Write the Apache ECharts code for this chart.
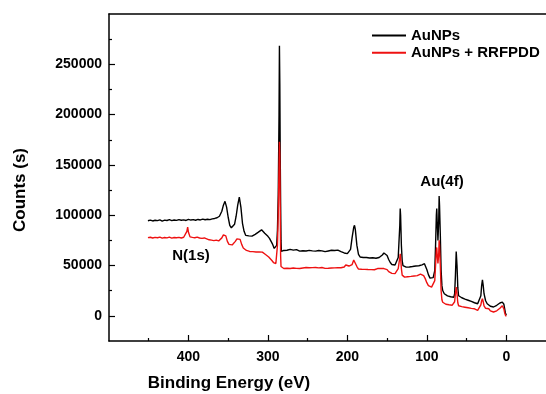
<!DOCTYPE html>
<html>
<head>
<meta charset="utf-8">
<script src="https://cdn.jsdelivr.net/npm/echarts@6/dist/echarts.min.js"></script>
<style>
  html, body { margin: 0; padding: 0; background: #fff; }
  #chart { width: 546px; height: 394px; }
</style>
</head>
<body>
<div id="chart"></div>
<script>
// XPS survey spectra: [binding energy (eV), counts]
const seriesNames = ['AuNPs', 'AuNPs + RRFPDD'];

const auNPs = [
  [451,94500],[448,95200],[445,94300],[442,95000],[439,94600],[436,95400],[433,94200],[430,95100],
  [427,94800],[424,95600],[421,94700],[418,95300],[415,94900],[412,95700],[409,95000],[406,95400],
  [403,94800],[400,95900],[397,95200],[394,95600],[391,95000],[388,95800],[385,95300],[382,96100],
  [379,95500],[376,96000],[373,95600],[370,96400],[367,96800],[364,97500],[361,99000],[358,104000],
  [356,110000],[354,113800],[352,108000],[350,98000],[348,90000],[346,87500],[344,88000],[342,91000],
  [340,99000],[338,110000],[336,118000],[334,108000],[332,92000],[330,84000],[328,80000],[326,78500],
  [324,79500],[322,80000],[320,79200],[318,80600],[316,81000],[314,82500],[312,83200],[310,84000],
  [308,85500],[306,84000],[304,82000],[302,81000],[300,79000],[298,77000],[296,74000],[294,71000],
  [292,67000],[290,65500],[289,70000],[288,85000],[287,120000],[286,200000],[285.5,268500],[285,230000],
  [284.5,160000],[284,112000],[283.5,75000],[283,64000],[282,65500],[280,65000],[278,64000],[276,65200],
  [274,64400],[272,66000],[270,64800],[268,65300],[266,64500],[264,65800],[262,65000],[260,64300],
  [258,65500],[256,64700],[254,65200],[252,64400],[250,65900],[248,65100],[246,65600],[244,64600],
  [242,65400],[240,64300],[238,66200],[236,65000],[234,65700],[232,64600],[230,65400],[228,63800],
  [226,65200],[224,64500],[222,66000],[220,65200],[218,64000],[216,65000],[214,64200],[212,65300],
  [210,64500],[208,63800],[206,64300],[204,62500],[202,63000],[200,61800],[198,62500],[196,66000],
  [194,78000],[192,88000],[191,90000],[190,86000],[188,70000],[186,61000],[184,58500],[182,59500],
  [180,58000],[178,59200],[176,58000],[174,58400],[172,57500],[170,57000],[168,57800],[166,56800],
  [164,57300],[162,56800],[160,58000],[158,59000],[156,60500],[154,62500],[152,63300],[150,60000],
  [148,56000],[146,53000],[144,51000],[142,50100],[140,50500],[138,52000],[136,58000],[134,90000],
  [133.5,106600],[133,100000],[132,70000],[131,55000],[130,50000],[128,48500],[126,48400],[124,49200],
  [122,48600],[120,49500],[118,49000],[116,50200],[114,49600],[112,50100],[110,49800],[108,50100],
  [106,50600],[104,51500],[103,51800],[102,50500],[100,46000],[98,41000],[96,37500],[94,36800],
  [92,38000],[90,45000],[89,70000],[88,100000],[87.5,106600],[87,95000],[86,75000],[85,95000],
  [84.5,119200],[84,110000],[83,80000],[82,45000],[81,30000],[80,25200],[78,22000],[76,20200],
  [74,19800],[72,19300],[70,19000],[68,18800],[66,18500],[65,22000],[64,40000],[63,64000],
  [62,50000],[61,28000],[60,20000],[58,18500],[56,18000],[54,17200],[52,16600],[50,16000],
  [48,15500],[46,14800],[44,14300],[42,13600],[40,13000],[38,12600],[36,12000],[34,13000],
  [32,20000],[31,30000],[30,35800],[29,30000],[28,22000],[26,15000],[24,12000],[22,10300],
  [20,9500],[18,8600],[16,8800],[14,9500],[12,10500],[10,11800],[8,12800],[6,13800],
  [5,13600],[4,13000],[3,11500],[2,7000],[1,2500],[0,500]
];

const auNPsRRFPDD = [
  [451,77700],[448,78100],[445,77400],[442,78000],[439,77600],[436,78300],[433,77200],[430,77900],
  [427,77500],[424,78200],[421,77300],[418,77900],[415,77600],[412,78000],[409,77400],[406,78100],
  [404,78800],[402,84000],[401,88200],[400,83000],[398,78500],[395,78000],[392,77600],[389,78200],
  [386,77400],[383,77000],[380,77400],[377,76500],[374,75600],[371,75200],[368,74800],[365,75200],
  [362,74500],[360,75000],[358,77500],[356,80500],[355,82300],[353,79500],[351,74000],[349,71000],
  [347,70000],[345,70500],[343,72000],[341,74000],[339,76500],[337,78300],[335,76000],[333,71000],
  [331,67500],[329,66000],[327,65000],[325,64500],[323,64000],[321,64300],[319,63800],[317,64200],
  [315,63500],[313,63000],[311,63500],[309,63800],[307,63300],[305,62500],[303,61000],[301,60000],
  [299,58500],[297,57000],[295,55000],[293,53000],[291,51800],[290,52000],[289,53000],[288,70000],
  [287,100000],[286,150000],[285.5,172900],[285,160000],[284.5,110000],[284,60000],[283.5,49000],[283,47100],
  [282,47800],[280,47100],[278,48000],[276,47300],[274,47800],[272,47000],[270,48100],[268,47500],
  [266,47900],[264,47200],[262,47800],[260,47000],[258,48200],[256,47600],[254,47300],[252,48000],
  [250,47400],[248,47800],[246,47100],[244,47900],[242,47500],[240,48100],[238,47400],[236,47700],
  [234,47200],[232,48000],[230,47600],[228,47200],[226,47800],[224,47300],[222,47900],[220,47600],
  [218,47100],[216,47700],[214,47400],[212,47900],[210,47300],[208,47800],[206,47500],[204,48500],
  [202,50500],[200,51800],[198,49500],[196,48000],[194,51000],[192,55500],[191,56800],[190,55000],
  [188,49000],[186,46500],[184,46000],[182,46300],[180,45800],[178,46200],[176,45700],[174,46000],
  [172,45600],[170,45900],[168,45500],[166,45800],[164,46200],[162,47000],[160,47800],[158,47200],
  [156,47500],[154,47000],[152,47800],[150,46000],[148,44000],[146,43000],[144,42200],[142,41800],
  [140,42000],[138,43000],[136,47000],[134,58000],[133.5,61700],[133,58000],[132,47000],[131,40500],
  [130,39000],[128,38500],[126,38400],[124,38900],[122,38600],[120,39200],[118,39000],[116,39600],
  [114,39800],[112,40000],[110,40800],[108,41500],[106,40800],[104,40000],[102,37000],[100,33000],
  [98,30000],[96,28500],[94,28500],[92,29500],[90,35000],[89,50000],[88,65000],[87.5,68000],
  [87,62000],[86,52000],[85,62000],[84.5,75000],[84,70000],[83,50000],[82,25000],[81,16000],
  [80,13500],[78,12000],[76,11500],[74,11200],[72,11000],[70,10800],[68,10600],[66,10500],
  [65,14000],[64,22000],[63,28500],[62,22000],[61,13000],[60,10000],[58,9500],[56,9200],
  [54,8800],[52,8600],[50,8300],[48,8000],[46,7700],[44,7400],[42,7200],[40,7000],
  [38,6500],[36,5500],[34,6500],[32,11000],[31,15000],[30,17000],[29,14000],[28,10000],
  [26,7500],[24,7000],[22,7000],[20,5000],[18,3600],[16,3800],[14,4300],[12,5000],
  [10,6000],[8,7500],[6,9000],[5,10000],[4,9500],[3,7000],[2,3000],[1,500],[0,-500]
];

// Tick positions
const xMajorTicks = [0, 100, 200, 300, 400];
const xMinorTicks = [50, 150, 250, 350, 450];
const yMajorTicks = [0, 50000, 100000, 150000, 200000, 250000];
const yMinorTicks = [25000, 75000, 125000, 175000, 225000, 275000];

// Peak annotations
const peakLabels = [
  { text: 'N(1s)', x: 191, y: 256 },
  { text: 'Au(4f)', x: 442, y: 182 }
];

const FONT = 'Liberation Sans, Arial, sans-serif';
const chart = echarts.init(document.getElementById('chart'), null, { renderer: 'canvas' });

const xBase = { type: 'value', inverse: true, min: -50, max: 500, splitLine: { show: false } };
const yBase = { type: 'value', min: -25000, max: 300000, splitLine: { show: false } };
const axisLine = { show: true, onZero: false, lineStyle: { color: '#000', width: 1.5 } };
const noLine = { show: false, onZero: false };
const plain = v => String(v);

chart.setOption({
  animation: false,
  backgroundColor: '#fff',
  grid: { left: 109, top: 14, width: 440, height: 327 },
  legend: {
    orient: 'vertical',
    left: 372,
    top: 28,
    padding: 0,
    itemWidth: 34,
    itemHeight: 2,
    itemGap: 2.3,
    icon: 'rect',
    data: seriesNames,
    textStyle: { fontFamily: FONT, fontWeight: 'bold', fontSize: 15, color: '#000', lineHeight: 15 }
  },
  xAxis: [
    Object.assign({}, xBase, {
      position: 'bottom',
      axisLine: axisLine,
      axisTick: { show: true, inside: true, length: 6, customValues: xMajorTicks, lineStyle: { color: '#000', width: 1.2 } },
      axisLabel: { customValues: xMajorTicks, formatter: plain, margin: 9, fontFamily: FONT, fontWeight: 'bold', fontSize: 14, color: '#000' }
    }),
    Object.assign({}, xBase, {
      position: 'bottom',
      axisLine: noLine,
      axisTick: { show: true, inside: true, length: 3, customValues: xMinorTicks, lineStyle: { color: '#000', width: 1.2 } },
      axisLabel: { show: false }
    }),
    Object.assign({}, xBase, {
      position: 'top',
      axisLine: axisLine,
      axisTick: { show: false },
      axisLabel: { show: false }
    })
  ],
  yAxis: [
    Object.assign({}, yBase, {
      position: 'left',
      axisLine: axisLine,
      axisTick: { show: true, inside: true, length: 6, customValues: yMajorTicks, lineStyle: { color: '#000', width: 1.2 } },
      axisLabel: { customValues: yMajorTicks, formatter: plain, margin: 7, fontFamily: FONT, fontWeight: 'bold', fontSize: 14, color: '#000' }
    }),
    Object.assign({}, yBase, {
      position: 'left',
      axisLine: noLine,
      axisTick: { show: true, inside: true, length: 3, customValues: yMinorTicks, lineStyle: { color: '#000', width: 1.2 } },
      axisLabel: { show: false }
    })
  ],
  series: [
    {
      name: seriesNames[0], type: 'line', data: auNPs, xAxisIndex: 0, yAxisIndex: 0,
      showSymbol: false, color: '#000', lineStyle: { width: 1.4, color: '#000' }
    },
    {
      name: seriesNames[1], type: 'line', data: auNPsRRFPDD, xAxisIndex: 0, yAxisIndex: 0,
      showSymbol: false, color: '#ee1111', lineStyle: { width: 1.4, color: '#ee1111' }
    }
  ],
  graphic: [
    {
      type: 'text', x: 20, y: 190, rotation: Math.PI / 2,
      style: { text: 'Counts (s)', fontFamily: FONT, fontWeight: 'bold', fontSize: 17, fill: '#000', align: 'center', verticalAlign: 'middle' }
    },
    {
      type: 'text', x: 229, y: 383,
      style: { text: 'Binding Energy (eV)', fontFamily: FONT, fontWeight: 'bold', fontSize: 17, fill: '#000', align: 'center', verticalAlign: 'middle' }
    }
  ].concat(peakLabels.map(p => ({
    type: 'text', x: p.x, y: p.y,
    style: { text: p.text, fontFamily: FONT, fontWeight: 'bold', fontSize: 15, fill: '#000', align: 'center', verticalAlign: 'middle' }
  })))
});
</script>
</body>
</html>
